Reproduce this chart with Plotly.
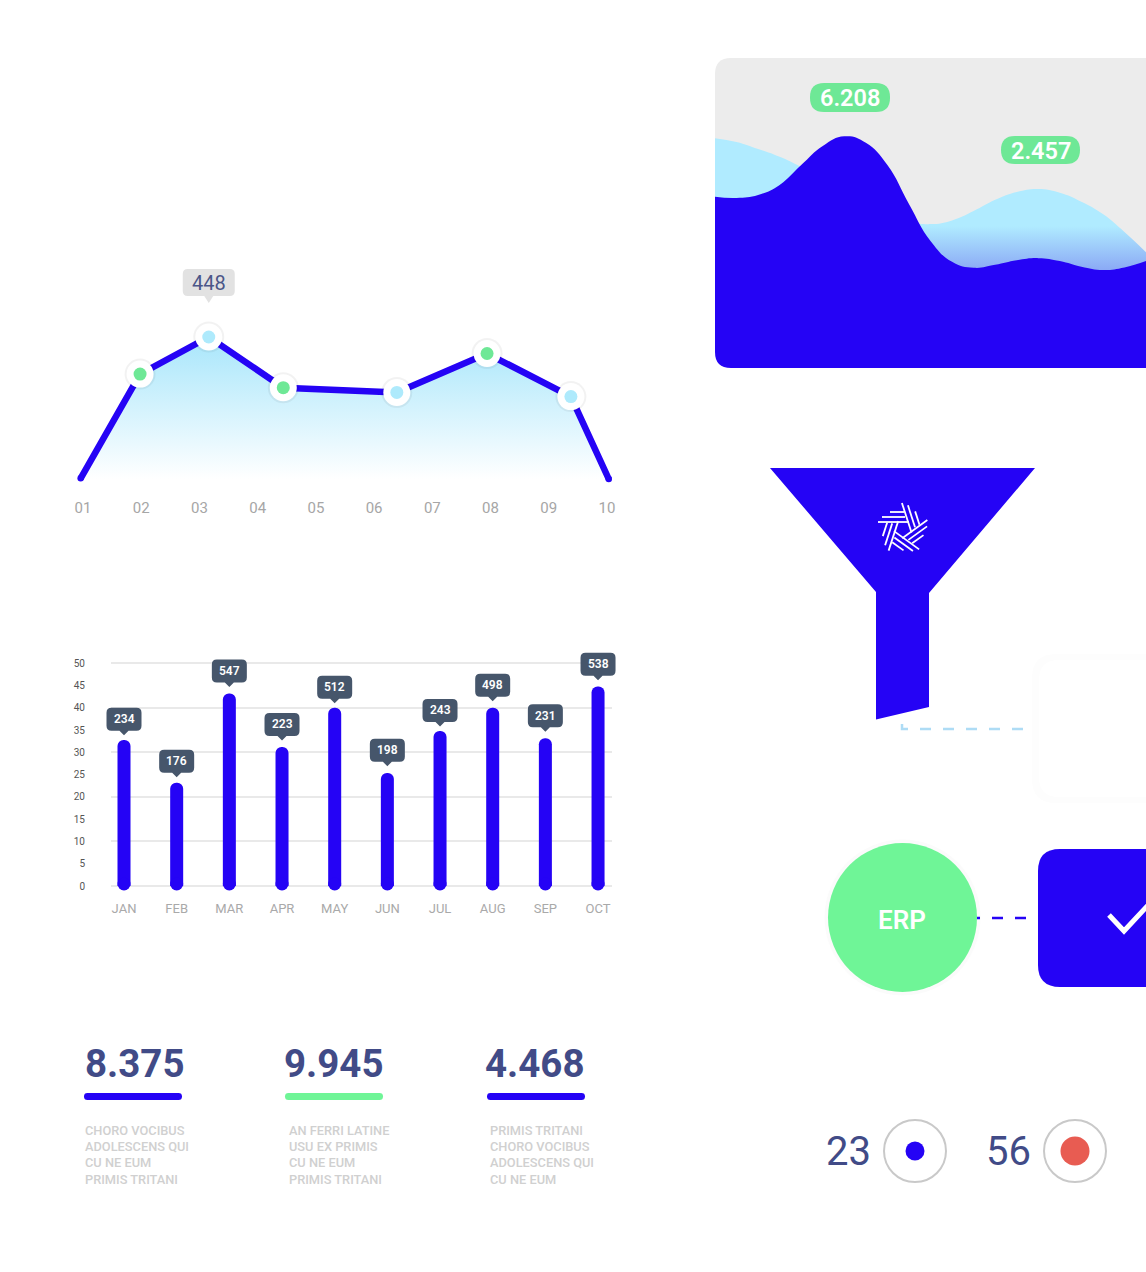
import numpy as np
import plotly.graph_objects as go

W, H = 1146, 1272
AZUL = '#2503f5'
VERDE = '#6ff597'
VERDE_SUAVE = '#6ee896'
CELESTE = '#aeeafc'
PIZARRA = '#46566b'
TINTA = '#414b87'
FUENTE = 'Roboto'

# --- Datos ---
dias = ['01', '02', '03', '04', '05', '06', '07', '08', '09', '10']
linea_x = [0.96, 1.98, 3.16, 4.44, 6.39, 7.94, 9.38, 10.03]
linea_y = [2, 331, 448, 288, 273, 396, 260, 0]
verdes = [1, 3, 5]
celestes = [2, 4, 6]

meses = ['JAN', 'FEB', 'MAR', 'APR', 'MAY', 'JUN', 'JUL', 'AUG', 'SEP', 'OCT']
barras = [32.8, 23.2, 43.2, 31.2, 40.0, 25.4, 34.8, 40.0, 33.2, 44.8]
etiquetas = ['234', '176', '547', '223', '512', '198', '243', '498', '231', '538']
ticks_y = [0, 5, 10, 15, 20, 25, 30, 35, 40, 45, 50]

ola_x = [0, 5, 10, 15, 20, 25, 30, 35, 40, 45, 50, 55, 60, 65, 70, 75, 80, 85, 90, 95, 100]
ola_clara_y = [6.15, 6.05, 5.86, 5.65, 5.38, 5.08, 4.76, 4.44, 4.15, 3.93, 3.85, 3.95, 4.20, 4.50, 4.71,
               4.79, 4.69, 4.45, 4.12, 3.64, 3.10]
ola_azul_y = [4.58, 4.55, 4.63, 4.90, 5.43, 5.94, 6.20, 6.03, 5.43, 4.39, 3.40, 2.84, 2.68, 2.76, 2.88,
              2.94, 2.86, 2.71, 2.62, 2.69, 2.86]

totales = ['8.375', '9.945', '4.468']
textos = [
    ['CHORO VOCIBUS', 'ADOLESCENS QUI', 'CU NE EUM', 'PRIMIS TRITANI'],
    ['AN FERRI LATINE', 'USU EX PRIMIS', 'CU NE EUM', 'PRIMIS TRITANI'],
    ['PRIMIS TRITANI', 'CHORO VOCIBUS', 'ADOLESCENS QUI', 'CU NE EUM'],
]

# separacion entre barra y globo, cambia un poco en cada mes
huecos_globo = [9, 9.7, 11, 11, 9, 11, 9, 11, 10.7, 10.7]


def px_x(x):
    return x / W


def px_y(y):
    return 1 - y / H


def dom_x(a, b):
    return [px_x(a), px_x(b)]


def dom_y(arriba, abajo):
    return [px_y(abajo), px_y(arriba)]


def poligono(puntos, cerrar=True):
    ruta = 'M ' + ' L '.join(f'{px_x(x):.5f},{px_y(y):.5f}' for x, y in puntos)
    return ruta + (' Z' if cerrar else '')


def caja(x0, y0, x1, y1, r, der=True):
    # rectangulo redondeado en pixeles de la pagina, der=False deja recta la derecha
    rd = r if der else 0
    p = lambda x, y: f'{px_x(x):.5f},{px_y(y):.5f}'
    return (f'M {p(x0 + r, y0)} L {p(x1 - rd, y0)} Q {p(x1, y0)} {p(x1, y0 + rd)} '
            f'L {p(x1, y1 - rd)} Q {p(x1, y1)} {p(x1 - rd, y1)} L {p(x0 + r, y1)} '
            f'Q {p(x0, y1)} {p(x0, y1 - r)} L {p(x0, y0 + r)} Q {p(x0, y0)} {p(x0 + r, y0)} Z')


def globo(ancho, alto, hueco, punta, r):
    # caja con piquito, en pixeles relativos al punto de anclaje
    a = ancho / 2
    return (f'M 0,{punta} L -4.5,{hueco} L {-a + r},{hueco} Q {-a},{hueco} {-a},{hueco + r} '
            f'L {-a},{hueco + alto - r} Q {-a},{hueco + alto} {-a + r},{hueco + alto} '
            f'L {a - r},{hueco + alto} Q {a},{hueco + alto} {a},{hueco + alto - r} '
            f'L {a},{hueco + r} Q {a},{hueco} {a - r},{hueco} L 4.5,{hueco} Z')


def forma(ruta, color, capa='above'):
    return dict(type='path', path=ruta, xref='paper', yref='paper', fillcolor=color,
                line=dict(width=0), layer=capa)


def circulo(cx, cy, r, relleno, borde=None, grosor=0):
    return dict(type='circle', xref='paper', yref='paper', x0=px_x(cx - r), x1=px_x(cx + r),
                y0=px_y(cy + r), y1=px_y(cy - r), fillcolor=relleno, layer='above',
                line=dict(width=grosor, color=borde or relleno))


def trazo(puntos, color, ancho, guion=None):
    return dict(type='path', path=poligono(puntos, False), xref='paper', yref='paper',
                line=dict(color=color, width=ancho, dash=guion or 'solid'), layer='above')


def texto(x, y, txt, size, color, peso=400, ancla='left'):
    return dict(x=px_x(x), y=px_y(y), xref='paper', yref='paper', text=txt, showarrow=False,
                xanchor=ancla, yanchor='middle', font=dict(family=FUENTE, size=size, color=color, weight=peso))


fig = go.Figure()

# Grafico de linea
fig.add_trace(go.Scatter(x=linea_x, y=linea_y, mode='lines', fill='tozeroy',
                         fillgradient=dict(type='vertical', colorscale=[[0, '#ffffff'], [1, '#a8e6fb']]),
                         line=dict(color=AZUL, width=6.5), xaxis='x', yaxis='y'))
fig.add_trace(go.Scatter(x=[linea_x[0], linea_x[-1]], y=[linea_y[0], linea_y[-1]], mode='markers',
                         marker=dict(color=AZUL, size=6.5), xaxis='x', yaxis='y'))
anillo_x = linea_x[1:-1]
anillo_y = linea_y[1:-1]
fig.add_trace(go.Scatter(x=anillo_x, y=anillo_y, mode='markers',
                         marker=dict(color='rgba(0,0,0,0.05)', size=31), xaxis='x', yaxis='y'))
fig.add_trace(go.Scatter(x=anillo_x, y=anillo_y, mode='markers',
                         marker=dict(color='white', size=27), xaxis='x', yaxis='y'))
fig.add_trace(go.Scatter(x=[linea_x[i] for i in verdes], y=[linea_y[i] for i in verdes], mode='markers',
                         marker=dict(color=VERDE_SUAVE, size=13), xaxis='x', yaxis='y'))
fig.add_trace(go.Scatter(x=[linea_x[i] for i in celestes], y=[linea_y[i] for i in celestes], mode='markers',
                         marker=dict(color=CELESTE, size=13), xaxis='x', yaxis='y'))

# Grafico de barras
fig.add_trace(go.Bar(x=meses, y=barras, width=0.247, marker=dict(color=AZUL, line=dict(width=0)),
                     xaxis='x2', yaxis='y2'))
fig.add_trace(go.Scatter(x=meses, y=[0.45] * len(meses), mode='markers',
                         marker=dict(color=AZUL, size=13), xaxis='x2', yaxis='y2'))

# Olas
fig.add_trace(go.Scatter(x=ola_x, y=ola_clara_y, mode='lines', fill='tozeroy',
                         line=dict(width=0, shape='spline', smoothing=1.3, color=CELESTE),
                         fillgradient=dict(type='vertical', start=2.6, stop=3.8,
                                           colorscale=[[0, '#8aa8f5'], [1, '#b0ebff']]),
                         xaxis='x3', yaxis='y3'))
fig.add_trace(go.Scatter(x=ola_x, y=ola_azul_y, mode='lines', fill='tozeroy', fillcolor=AZUL,
                         line=dict(width=0, shape='spline', smoothing=1.3, color=AZUL), xaxis='x3', yaxis='y3'))

formas = []
notas = []

# Fondo de la tarjeta y esquina inferior
formas.append(forma(caja(715, 58, 1160, 368, 16, der=False), '#ececec', 'below'))
formas.append(forma(
    f'M {px_x(714)},{px_y(369)} L {px_x(714)},{px_y(352)} L {px_x(715)},{px_y(352)} '
    f'Q {px_x(715)},{px_y(368)} {px_x(731)},{px_y(368)} L {px_x(731)},{px_y(369)} Z', 'white'))

formas.append(forma(caja(810, 83, 890, 112, 14), VERDE_SUAVE))
formas.append(forma(caja(1001, 136, 1080, 164, 14), VERDE_SUAVE))
notas.append(texto(849.5, 98, '6.208', 23.5, 'white', 600, 'center'))
notas.append(texto(1040.5, 150.5, '2.457', 23.5, 'white', 600, 'center'))

# Globo del 448
formas.append(dict(type='path', path=globo(52, 27, 41, 34, 5), xref='x', yref='y',
                   xsizemode='pixel', ysizemode='pixel', xanchor=linea_x[2], yanchor=linea_y[2],
                   fillcolor='#e2e2e2', line=dict(width=0), layer='above'))
notas.append(dict(x=linea_x[2], y=linea_y[2], xref='x', yref='y', yshift=54.5, showarrow=False,
                  text='448', font=dict(family=FUENTE, size=20, color='#4b5688')))

# Globos de las barras: van en paper porque en x2/y2 se recortan con el eje
paso_x = 52.67
paso_y = 4.448
for i, (valor, txt, hueco) in enumerate(zip(barras, etiquetas, huecos_globo)):
    cx = 124 + paso_x * i
    cy = 885.7 - paso_y * valor
    formas.append(dict(type='path', path=globo(35, 23, hueco, hueco - 4.5, 5), xref='paper', yref='paper',
                       xsizemode='pixel', ysizemode='pixel', xanchor=px_x(cx), yanchor=px_y(cy),
                       fillcolor=PIZARRA, line=dict(width=0), layer='above'))
    notas.append(texto(cx, cy - hueco - 11.5, txt, 12, 'white', 600, 'center'))

# Embudo con logo
formas.append(forma(poligono([(770, 468), (1035, 468), (929, 593), (929, 707), (876, 719.5), (876, 592)]), AZUL))
rayas = [((-13, -17), (1, -17)), ((-21, -12), (2, -12)), ((-25, -7), (6, -7))]
for k in range(5):
    a = np.radians(72 * k)
    for (x0, y0), (x1, y1) in rayas:
        ini = (903 + x0 * np.cos(a) - y0 * np.sin(a), 529 + x0 * np.sin(a) + y0 * np.cos(a))
        fin = (903 + x1 * np.cos(a) - y1 * np.sin(a), 529 + x1 * np.sin(a) + y1 * np.cos(a))
        formas.append(trazo([ini, fin], 'white', 1.8))

# Tarjeta vacia, conectores y ERP
formas.append(forma(caja(1032, 654, 1160, 803, 24, der=False), '#fdfdfd', 'below'))
formas.append(forma(caja(1039, 660, 1160, 797, 20, der=False), 'white', 'below'))
formas.append(trazo([(902, 724), (902, 729), (1027, 729)], '#aedcf5', 2.5, '11px,12px'))
formas.append(circulo(902.5, 917.5, 78, '#fbfbfb'))
formas.append(circulo(902.5, 917.5, 74.5, VERDE))
formas.append(trazo([(977, 918), (1027, 918)], AZUL, 2.5, '3px,12px,11px,12px,11px'))
notas.append(texto(901.5, 919.5, 'ERP', 26, 'white', 600, 'center'))
formas.append(forma(caja(1038, 849, 1170, 987, 22), AZUL))
formas.append(trazo([(1109, 915), (1124, 931), (1150, 903)], 'white', 5))

# Totales
for x_num, x_barra, x_txt, total, color, lineas in zip(
        [82.5, 282, 483], [84, 285, 487], [83, 287, 488], totales, [AZUL, VERDE, AZUL], textos):
    notas.append(texto(x_num, 1063, total, 38.5, TINTA, 700))
    formas.append(forma(caja(x_barra, 1093, x_barra + 98, 1100, 3.5), color))
    for y, linea in zip([1130, 1146.3, 1162.6, 1179], lineas):
        notas.append(texto(x_txt, y, linea, 12.8, '#d0d0d0', 500))

# Contadores
notas.append(texto(824, 1151, '23', 40, TINTA))
notas.append(texto(984, 1151, '56', 40, TINTA))
formas.append(circulo(915, 1151, 31, 'white', '#c9c9c9', 2))
formas.append(circulo(915, 1151, 9.5, AZUL))
formas.append(circulo(1075, 1151, 31, 'white', '#c9c9c9', 2))
formas.append(circulo(1075, 1151, 14.5, '#e85c52'))

fig.update_layout(
    width=W, height=H, margin=dict(l=0, r=0, t=0, b=0, pad=0), showlegend=False,
    paper_bgcolor='white', plot_bgcolor='rgba(0,0,0,0)', barcornerradius=6.5,
    shapes=formas, annotations=notas,
    xaxis=dict(domain=dom_x(60, 630), range=[0.605, 10.395], tickvals=list(range(1, 11)), ticktext=dias,
               anchor='y', showgrid=False, zeroline=False, showline=False, ticks='', ticklabelstandoff=2,
               tickfont=dict(family=FUENTE, size=15, color='#a6a6a6')),
    yaxis=dict(domain=dom_y(260, 495), range=[-50.5, 691], visible=False, anchor='x'),
    xaxis2=dict(domain=dom_x(111, 612), range=[-0.247, 9.265], type='category', categoryorder='array',
                categoryarray=meses, anchor='y2', showgrid=False, zeroline=False, showline=False, ticks='',
                ticklabelstandoff=6, tickfont=dict(family=FUENTE, size=13, color='#a9a9a9')),
    yaxis2=dict(domain=dom_y(654.4, 892.7), range=[-1.5, 52], tickvals=ticks_y, anchor='x2', showgrid=False,
                zeroline=False, showline=False, ticks='', ticklabelstandoff=25,
                tickfont=dict(family=FUENTE, size=10, color='#555555'),
                minor=dict(tickvals=[0, 10, 20, 30, 40, 50], showgrid=True, gridcolor='#e9e9e9', gridwidth=2, ticks='')),
    xaxis3=dict(domain=dom_x(715, 1146), range=[0, 100], visible=False, anchor='y3'),
    yaxis3=dict(domain=dom_y(58, 368), range=[0, 8.295], visible=False, anchor='x3'),
)

fig.write_html("out.html", config={'displayModeBar': False}, post_script="document.body.style.margin='0';")
